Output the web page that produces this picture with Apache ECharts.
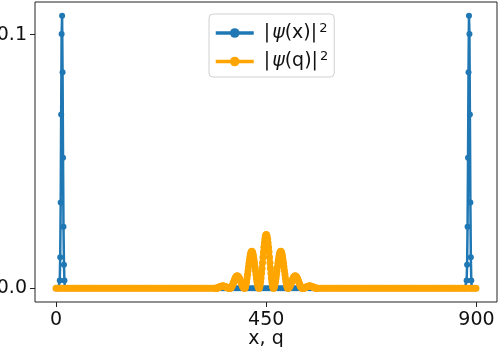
<!DOCTYPE html>
<html>
<head>
<meta charset="utf-8">
<script src="https://cdn.jsdelivr.net/npm/echarts@6/dist/echarts.min.js"></script>
<style>html,body{margin:0;padding:0;background:#fff}#c{width:498px;height:347px}</style>
</head>
<body>
<div id="c"></div>
<script>
// x positions where both curves sit on zero
const sampleX = [0,5,10,15,20,25,30,35,40,45,50,55,60,65,70,75,80,85,90,95,100,105,110,115,120,125,130,135,140,145,150,155,160,165,170,175,180,185,190,195,200,205,210,215,220,225,230,235,240,245,250,255,260,265,270,275,280,285,290,295,300,305,310,315,320,325,330,335,340,345,350,355,360,365,370,375,380,385,390,395,400,405,410,415,420,425,430,435,440,445,450,455,460,465,470,475,480,485,490,495,500,505,510,515,520,525,530,535,540,545,550,555,560,565,570,575,580,585,590,595,600,605,610,615,620,625,630,635,640,645,650,655,660,665,670,675,680,685,690,695,700,705,710,715,720,725,730,735,740,745,750,755,760,765,770,775,780,785,790,795,800,805,810,815,820,825,830,835,840,845,850,855,860,865,870,875,880,885,890,895,899];

// |psi(x)|^2 spikes
const spikeLeftX = [7,8,9,10,11,12,13,14,15,16,17,18,19];
const spikeLeftY = [0,0.0031,0.0122,0.0338,0.0685,0.1003,0.1075,0.0852,0.0515,0.0243,0.0093,0.0031,0];
const spikeRightX = [878,879,880,881,882,883,884,885,886,887,888,889,890];
const spikeRightY = [0,0.0031,0.0093,0.0243,0.0515,0.0852,0.1075,0.1003,0.0685,0.0338,0.0122,0.0031,0];

// |psi(q)|^2 central fringes, x = 342 .. 558
const qStart = 342;
const qY = [
0,0.00002,0.00006,0.00011,0.00017,0.00025,0.00034,0.00043,0.00052,0.00061,0.00069,0.00076,0.00082,0.00086,0.00089,0.0009,0.00089,0.00086,0.00082,0.00076,0.00069,0.00061,0.00052,0.00043,0.00034,0.00025,0.00017,0.00011,0.00006,0.00002,0,
0.00001,0.00011,0.00031,0.00059,0.00095,0.00137,0.00184,0.00233,0.00282,0.0033,0.00375,0.00414,0.00446,0.0047,0.00485,0.0049,0.00485,0.0047,0.00446,0.00414,0.00375,0.0033,0.00282,0.00233,0.00184,0.00137,0.00095,0.00059,0.00031,0.00011,0.00001,
0.00004,0.00033,0.00092,0.00176,0.00283,0.00408,0.00547,0.00693,0.00841,0.00984,0.01116,0.01233,0.01329,0.01401,0.01445,0.0146,0.01445,0.01401,0.01329,0.01233,0.01116,0.00984,0.00841,0.00693,0.00547,0.00408,0.00283,0.00176,0.00092,0.00033,0.00004,
0.00006,0.00049,0.00133,0.00255,0.00411,0.00593,0.00794,0.01006,0.0122,0.01428,0.01621,0.0179,0.0193,0.02034,0.02098,0.0212,0.02098,0.02034,0.0193,0.0179,0.01621,0.01428,0.0122,0.01006,0.00794,0.00593,0.00411,0.00255,0.00133,0.00049,0.00006,
0.00004,0.00033,0.00092,0.00176,0.00283,0.00408,0.00547,0.00693,0.00841,0.00984,0.01116,0.01233,0.01329,0.01401,0.01445,0.0146,0.01445,0.01401,0.01329,0.01233,0.01116,0.00984,0.00841,0.00693,0.00547,0.00408,0.00283,0.00176,0.00092,0.00033,0.00004,
0.00001,0.00011,0.00031,0.00059,0.00095,0.00137,0.00184,0.00233,0.00282,0.0033,0.00375,0.00414,0.00446,0.0047,0.00485,0.0049,0.00485,0.0047,0.00446,0.00414,0.00375,0.0033,0.00282,0.00233,0.00184,0.00137,0.00095,0.00059,0.00031,0.00011,0.00001,
0,0.00002,0.00006,0.00011,0.00017,0.00025,0.00034,0.00043,0.00052,0.00061,0.00069,0.00076,0.00082,0.00086,0.00089,0.0009,0.00089,0.00086,0.00082,0.00076,0.00069,0.00061,0.00052,0.00043,0.00034,0.00025,0.00017,0.00011,0.00006,0.00002,0
];
const qX = qY.map((_, i) => qStart + i);

const xTicks = [0, 450, 900];
const yTicks = [0, 0.1];
const seriesNames = ['|ψ(x)|²', '|ψ(q)|²'];

function merge(segs) {
  const pts = [];
  segs.forEach(s => s.x.forEach((x, i) => pts.push([x, s.y[i]])));
  sampleX.forEach(x => {
    const inside = segs.some(s => x >= s.x[0] && x <= s.x[s.x.length - 1]);
    if (!inside) pts.push([x, 0]);
  });
  pts.sort((a, b) => a[0] - b[0]);
  return pts;
}
const psiX = merge([{x: spikeLeftX, y: spikeLeftY}, {x: spikeRightX, y: spikeRightY}]);
const psiQ = merge([{x: qX, y: qY}]);

const FONT = 'DejaVu Sans';
const chart = echarts.init(document.getElementById('c'), null, {renderer: 'canvas'});
chart.setOption({
  animation: false,
  backgroundColor: '#fff',
  grid: {left: 35, right: 1, top: 2, bottom: 45, show: true, borderColor: '#222', borderWidth: 1,
    backgroundColor: 'transparent', containLabel: false, outerBoundsMode: 'none'},
  xAxis: {
    type: 'value', min: -45, max: 944,
    name: 'x, q', nameLocation: 'middle', nameGap: 28, nameMoveOverlap: false,
    nameTextStyle: {fontFamily: FONT, fontSize: 19, color: '#111'},
    splitLine: {show: false},
    axisLine: {show: false, onZero: false},
    axisTick: {show: true, length: 5, customValues: xTicks, lineStyle: {color: '#222'}},
    axisLabel: {customValues: xTicks, margin: 9, fontFamily: FONT, fontSize: 19, color: '#111'}
  },
  yAxis: {
    type: 'value', min: -0.0054, max: 0.1129,
    splitLine: {show: false},
    axisLine: {show: false, onZero: false},
    axisTick: {show: true, length: 5, customValues: yTicks, lineStyle: {color: '#222'}},
    axisLabel: {customValues: yTicks, margin: 8, fontFamily: FONT, fontSize: 19, color: '#111',
      formatter: v => v.toFixed(1)}
  },
  legend: {
    orient: 'vertical', left: 209, top: 14,
    padding: [8, 6, 6, 5], itemGap: 8, itemWidth: 38, itemHeight: 12,
    backgroundColor: 'rgba(255,255,255,0.85)', borderColor: '#d0d0d0', borderWidth: 1, borderRadius: 4,
    lineStyle: {width: 3.5},
    data: seriesNames,
    formatter: name => name === seriesNames[0]
      ? '{a||}{i|ψ}{a|(x)|}{s|2}' : '{a||}{i|ψ}{a|(q)|}{s|2}',
    textStyle: {
      fontFamily: FONT, fontSize: 19, color: '#111', padding: [0, 0, 0, 5],
      rich: {
        a: {fontFamily: FONT, fontSize: 19, color: '#111', lineHeight: 22},
        i: {fontFamily: FONT, fontSize: 19, color: '#111', fontStyle: 'italic', lineHeight: 22, padding: [0, 0, 0, 2]},
        s: {fontFamily: FONT, fontSize: 13, color: '#111', verticalAlign: 'top', lineHeight: 12, padding: [0, 0, 0, 2]}
      }
    }
  },
  series: [
    {
      name: seriesNames[0], type: 'line', data: psiX,
      symbol: 'circle', symbolSize: 6, showSymbol: true, showAllSymbol: true,
      color: '#1f77b4', lineStyle: {width: 2.5, color: '#1f77b4'}, itemStyle: {color: '#1f77b4'}
    },
    {
      name: seriesNames[1], type: 'line', data: psiQ,
      symbol: 'circle', symbolSize: 7, showSymbol: true, showAllSymbol: true,
      color: '#ffa500', lineStyle: {width: 5.5, color: '#ffa500'}, itemStyle: {color: '#ffa500'}
    }
  ]
});
</script>
</body>
</html>
